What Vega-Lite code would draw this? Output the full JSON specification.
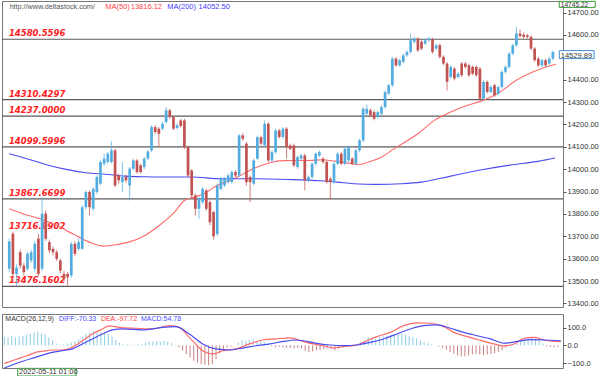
{
"$schema": "https://vega.github.io/schema/vega-lite/v6.json",
"padding": 0,
"background": "white",
"spacing": 5,
"config": {"view": {"stroke": "#777", "strokeWidth": 1}, "font": "Liberation Sans",
  "axis": {"labelFont": "Liberation Sans", "labelFontSize": 7.5, "labelColor": "#333", "tickColor": "#555", "tickSize": 3, "labelPadding": 1, "domain": false, "grid": false, "title": null}},
"datasets": {
"candles": [
{"i":0,"o":13555,"h":13690,"l":13540,"c":13677},{"i":1,"o":13711,"h":13720,"l":13500,"c":13532},{"i":2,"o":13532,"h":13575,"l":13478,"c":13560},{"i":3,"o":13629,"h":13640,"l":13555,"c":13569},{"i":4,"o":13569,"h":13580,"l":13525,"c":13540},
{"i":5,"o":13555,"h":13630,"l":13545,"c":13622},{"i":6,"o":13592,"h":13640,"l":13580,"c":13629},{"i":7,"o":13555,"h":13680,"l":13540,"c":13666},{"i":8,"o":13689,"h":13711,"l":13520,"c":13532},{"i":9,"o":13555,"h":13875,"l":13545,"c":13801},
{"i":10,"o":13801,"h":13815,"l":13680,"c":13689},{"i":11,"o":13674,"h":13685,"l":13625,"c":13637},{"i":12,"o":13644,"h":13655,"l":13615,"c":13629},{"i":13,"o":13629,"h":13640,"l":13590,"c":13599},{"i":14,"o":13592,"h":13600,"l":13535,"c":13547},
{"i":15,"o":13532,"h":13545,"l":13500,"c":13510},{"i":16,"o":13532,"h":13540,"l":13480,"c":13517},{"i":17,"o":13525,"h":13675,"l":13515,"c":13666},{"i":18,"o":13666,"h":13678,"l":13610,"c":13622},{"i":19,"o":13644,"h":13690,"l":13635,"c":13674},
{"i":20,"o":13644,"h":13840,"l":13640,"c":13830},{"i":21,"o":13830,"h":13905,"l":13820,"c":13898},{"i":22,"o":13898,"h":13905,"l":13793,"c":13830},{"i":23,"o":13823,"h":13920,"l":13815,"c":13912},{"i":24,"o":13898,"h":13972,"l":13890,"c":13965},
{"i":25,"o":13935,"h":14040,"l":13928,"c":14032},{"i":26,"o":14024,"h":14069,"l":14015,"c":14047},{"i":27,"o":14032,"h":14076,"l":14025,"c":14069},{"i":28,"o":14032,"h":14124,"l":14025,"c":14084},{"i":29,"o":14084,"h":14090,"l":13920,"c":13927},
{"i":30,"o":13972,"h":13980,"l":13935,"c":13950},{"i":31,"o":13942,"h":14032,"l":13898,"c":13965},{"i":32,"o":13965,"h":13975,"l":13940,"c":13950},{"i":33,"o":13927,"h":14010,"l":13860,"c":14002},{"i":34,"o":14002,"h":14047,"l":13995,"c":14039},
{"i":35,"o":14039,"h":14045,"l":13980,"c":13987},{"i":36,"o":14017,"h":14025,"l":13980,"c":13987},{"i":37,"o":14010,"h":14055,"l":14000,"c":14047},{"i":38,"o":14047,"h":14085,"l":14040,"c":14079},{"i":39,"o":14084,"h":14196,"l":14076,"c":14188},
{"i":40,"o":14188,"h":14196,"l":14158,"c":14166},{"i":41,"o":14181,"h":14188,"l":14099,"c":14158},{"i":42,"o":14181,"h":14211,"l":14173,"c":14203},{"i":43,"o":14211,"h":14278,"l":14203,"c":14263},{"i":44,"o":14263,"h":14270,"l":14225,"c":14233},
{"i":45,"o":14233,"h":14240,"l":14173,"c":14181},{"i":46,"o":14184,"h":14205,"l":14178,"c":14196},{"i":47,"o":14218,"h":14225,"l":14185,"c":14193},{"i":48,"o":14218,"h":14225,"l":14090,"c":14099},{"i":49,"o":14099,"h":14105,"l":13965,"c":13972},
{"i":50,"o":13994,"h":14000,"l":13870,"c":13883},{"i":51,"o":13883,"h":13890,"l":13793,"c":13823},{"i":52,"o":13823,"h":13878,"l":13778,"c":13868},{"i":53,"o":13853,"h":13920,"l":13845,"c":13912},{"i":54,"o":13905,"h":13912,"l":13815,"c":13823},
{"i":55,"o":13853,"h":13860,"l":13750,"c":13763},{"i":56,"o":13808,"h":13815,"l":13685,"c":13700},{"i":57,"o":13710,"h":13935,"l":13700,"c":13927},{"i":58,"o":13912,"h":13965,"l":13905,"c":13957},{"i":59,"o":13927,"h":13965,"l":13920,"c":13957},
{"i":60,"o":13942,"h":13980,"l":13935,"c":13972},{"i":61,"o":13942,"h":13995,"l":13935,"c":13987},{"i":62,"o":13987,"h":13995,"l":13965,"c":13972},{"i":63,"o":13972,"h":14158,"l":13965,"c":14151},{"i":64,"o":14151,"h":14160,"l":14128,"c":14136},
{"i":65,"o":14114,"h":14122,"l":13927,"c":13942},{"i":66,"o":13965,"h":13972,"l":13853,"c":13942},{"i":67,"o":13935,"h":14047,"l":13928,"c":14039},{"i":68,"o":14047,"h":14150,"l":14040,"c":14143},{"i":69,"o":14143,"h":14150,"l":14106,"c":14114},
{"i":70,"o":14106,"h":14218,"l":14099,"c":14203},{"i":71,"o":14203,"h":14210,"l":14032,"c":14039},{"i":72,"o":14039,"h":14084,"l":14032,"c":14076},{"i":73,"o":14076,"h":14180,"l":14069,"c":14173},{"i":74,"o":14173,"h":14180,"l":14136,"c":14144},
{"i":75,"o":14144,"h":14188,"l":14136,"c":14181},{"i":76,"o":14181,"h":14188,"l":14047,"c":14099},{"i":77,"o":14106,"h":14114,"l":14084,"c":14091},{"i":78,"o":14106,"h":14114,"l":14010,"c":14017},{"i":79,"o":14010,"h":14061,"l":14002,"c":14054},
{"i":80,"o":14047,"h":14069,"l":14040,"c":14061},{"i":81,"o":14061,"h":14069,"l":13905,"c":13950},{"i":82,"o":13950,"h":13972,"l":13942,"c":13965},{"i":83,"o":13965,"h":14032,"l":13957,"c":14024},{"i":84,"o":14024,"h":14076,"l":14017,"c":14069},
{"i":85,"o":14061,"h":14084,"l":14054,"c":14076},{"i":86,"o":14047,"h":14054,"l":14024,"c":14032},{"i":87,"o":14032,"h":14040,"l":13935,"c":13942},{"i":88,"o":13957,"h":13965,"l":13868,"c":13942},{"i":89,"o":13942,"h":14032,"l":13935,"c":14024},
{"i":90,"o":14024,"h":14076,"l":14017,"c":14069},{"i":91,"o":14069,"h":14076,"l":14017,"c":14024},{"i":92,"o":14024,"h":14099,"l":14017,"c":14091},{"i":93,"o":14039,"h":14106,"l":14032,"c":14099},{"i":94,"o":14047,"h":14054,"l":14017,"c":14024},
{"i":95,"o":14024,"h":14091,"l":14017,"c":14084},{"i":96,"o":14084,"h":14136,"l":14076,"c":14129},{"i":97,"o":14129,"h":14278,"l":14121,"c":14270},{"i":98,"o":14248,"h":14290,"l":14240,"c":14270},{"i":99,"o":14263,"h":14270,"l":14233,"c":14241},
{"i":100,"o":14255,"h":14262,"l":14218,"c":14226},{"i":101,"o":14233,"h":14262,"l":14226,"c":14255},{"i":102,"o":14248,"h":14285,"l":14240,"c":14278},{"i":103,"o":14278,"h":14352,"l":14270,"c":14345},{"i":104,"o":14338,"h":14382,"l":14330,"c":14375},
{"i":105,"o":14375,"h":14502,"l":14367,"c":14494},{"i":106,"o":14494,"h":14502,"l":14457,"c":14464},{"i":107,"o":14464,"h":14494,"l":14457,"c":14487},{"i":108,"o":14479,"h":14516,"l":14472,"c":14509},{"i":109,"o":14509,"h":14531,"l":14502,"c":14524},
{"i":110,"o":14524,"h":14606,"l":14516,"c":14576},{"i":111,"o":14569,"h":14591,"l":14561,"c":14584},{"i":112,"o":14584,"h":14591,"l":14524,"c":14531},{"i":113,"o":14569,"h":14576,"l":14531,"c":14539},{"i":114,"o":14561,"h":14584,"l":14554,"c":14576},
{"i":115,"o":14576,"h":14591,"l":14569,"c":14584},{"i":116,"o":14581,"h":14588,"l":14516,"c":14524},{"i":117,"o":14539,"h":14561,"l":14531,"c":14554},{"i":118,"o":14554,"h":14561,"l":14494,"c":14502},{"i":119,"o":14502,"h":14509,"l":14464,"c":14472},
{"i":120,"o":14472,"h":14479,"l":14352,"c":14390},{"i":121,"o":14412,"h":14464,"l":14405,"c":14457},{"i":122,"o":14449,"h":14457,"l":14397,"c":14405},{"i":123,"o":14412,"h":14435,"l":14405,"c":14427},{"i":124,"o":14472,"h":14479,"l":14412,"c":14420},
{"i":125,"o":14472,"h":14479,"l":14449,"c":14457},{"i":126,"o":14464,"h":14472,"l":14412,"c":14420},{"i":127,"o":14457,"h":14464,"l":14420,"c":14427},{"i":128,"o":14457,"h":14464,"l":14412,"c":14420},{"i":129,"o":14449,"h":14457,"l":14308,"c":14315},
{"i":130,"o":14315,"h":14397,"l":14308,"c":14390},{"i":131,"o":14390,"h":14397,"l":14338,"c":14345},{"i":132,"o":14345,"h":14375,"l":14338,"c":14367},{"i":133,"o":14375,"h":14382,"l":14323,"c":14330},{"i":134,"o":14337,"h":14375,"l":14330,"c":14367},
{"i":135,"o":14367,"h":14442,"l":14360,"c":14435},{"i":136,"o":14435,"h":14464,"l":14427,"c":14457},{"i":137,"o":14457,"h":14524,"l":14449,"c":14516},{"i":138,"o":14516,"h":14561,"l":14509,"c":14554},{"i":139,"o":14554,"h":14636,"l":14546,"c":14606},
{"i":140,"o":14606,"h":14625,"l":14588,"c":14595},{"i":141,"o":14601,"h":14610,"l":14584,"c":14591},{"i":142,"o":14598,"h":14605,"l":14584,"c":14591},{"i":143,"o":14591,"h":14598,"l":14531,"c":14539},{"i":144,"o":14539,"h":14546,"l":14479,"c":14487},
{"i":145,"o":14494,"h":14502,"l":14457,"c":14464},{"i":146,"o":14464,"h":14494,"l":14457,"c":14487},{"i":147,"o":14487,"h":14494,"l":14457,"c":14464},{"i":148,"o":14472,"h":14502,"l":14465,"c":14494},{"i":149,"o":14494,"h":14530,"l":14487,"c":14524}
],
"ma": [
{"s":"MA50","i":0,"p":13823},{"s":"MA50","i":3.9,"p":13800},{"s":"MA50","i":8.4,"p":13778},{"s":"MA50","i":12.9,"p":13749},{"s":"MA50","i":17.4,"p":13711},{"s":"MA50","i":21.9,"p":13674},{"s":"MA50","i":25.9,"p":13656},{"s":"MA50","i":29.1,"p":13662},{"s":"MA50","i":32.7,"p":13674},{"s":"MA50","i":37.2,"p":13704},{"s":"MA50","i":41.7,"p":13756},{"s":"MA50","i":45.3,"p":13808},{"s":"MA50","i":48,"p":13860},{"s":"MA50","i":50.7,"p":13875},{"s":"MA50","i":53.4,"p":13890},{"s":"MA50","i":57,"p":13928},{"s":"MA50","i":60.6,"p":13950},{"s":"MA50","i":64.2,"p":13979},{"s":"MA50","i":67.8,"p":14009},{"s":"MA50","i":71.5,"p":14029},{"s":"MA50","i":75.1,"p":14038},{"s":"MA50","i":78.6,"p":14039},{"s":"MA50","i":82.3,"p":14039},{"s":"MA50","i":85.9,"p":14042},{"s":"MA50","i":89.5,"p":14035},{"s":"MA50","i":93.1,"p":14027},{"s":"MA50","i":95.8,"p":14020},{"s":"MA50","i":98.5,"p":14032},{"s":"MA50","i":102.1,"p":14054},{"s":"MA50","i":105.7,"p":14094},{"s":"MA50","i":107.5,"p":14111},{"s":"MA50","i":112,"p":14158},{"s":"MA50","i":116.5,"p":14218},{"s":"MA50","i":121,"p":14256},{"s":"MA50","i":125.5,"p":14285},{"s":"MA50","i":130,"p":14308},{"s":"MA50","i":134.5,"p":14345},{"s":"MA50","i":139,"p":14397},{"s":"MA50","i":143.5,"p":14434},{"s":"MA50","i":147.1,"p":14457},{"s":"MA50","i":149.8,"p":14469},
{"s":"MA200","i":0,"p":14069},{"s":"MA200","i":4.8,"p":14047},{"s":"MA200","i":10.2,"p":14020},{"s":"MA200","i":15.6,"p":13999},{"s":"MA200","i":21,"p":13984},{"s":"MA200","i":26.4,"p":13977},{"s":"MA200","i":31.8,"p":13969},{"s":"MA200","i":37.2,"p":13966},{"s":"MA200","i":42.6,"p":13965},{"s":"MA200","i":49.8,"p":13965},{"s":"MA200","i":58.4,"p":13957},{"s":"MA200","i":67.4,"p":13957},{"s":"MA200","i":76.4,"p":13954},{"s":"MA200","i":85.4,"p":13948},{"s":"MA200","i":89.9,"p":13942},{"s":"MA200","i":94.4,"p":13935},{"s":"MA200","i":100.7,"p":13932},{"s":"MA200","i":107.5,"p":13935},{"s":"MA200","i":112.9,"p":13942},{"s":"MA200","i":121,"p":13969},{"s":"MA200","i":129.1,"p":13996},{"s":"MA200","i":137.2,"p":14018},{"s":"MA200","i":145.3,"p":14036},{"s":"MA200","i":149.6,"p":14050}
],
"levels": [{"level":14580.5596},{"level":14310.4297},{"level":14237.0},{"level":14099.5996},{"level":13867.6699},{"level":13476.1602}],
"labels": [{"level":14580.5596,"t":"14580.5596"},{"level":14310.4297,"t":"14310.4297"},{"level":14237.0,"t":"14237.0000"},{"level":14099.5996,"t":"14099.5996"},{"level":13867.6699,"t":"13867.6699"},{"level":13716.9902,"t":"13716.9902"},{"level":13476.1602,"t":"13476.1602"}],
"hist": [
{"i":0,"m":49},{"i":1,"m":45},{"i":2,"m":52},{"i":3,"m":45},{"i":4,"m":49},{"i":5,"m":54},{"i":6,"m":60},{"i":7,"m":67},{"i":8,"m":73},{"i":9,"m":79},
{"i":10,"m":67},{"i":11,"m":60},{"i":12,"m":45},{"i":13,"m":30},{"i":14,"m":11},{"i":15,"m":4},{"i":16,"m":6},{"i":17,"m":11},{"i":18,"m":17},{"i":19,"m":22},
{"i":20,"m":34},{"i":21,"m":49},{"i":22,"m":64},{"i":23,"m":71},{"i":24,"m":79},{"i":25,"m":75},{"i":26,"m":73},{"i":27,"m":71},{"i":28,"m":64},{"i":29,"m":49},
{"i":30,"m":30},{"i":31,"m":15},{"i":32,"m":7},{"i":33,"m":6},{"i":34,"m":4},{"i":35,"m":4},{"i":36,"m":6},{"i":37,"m":9},{"i":38,"m":15},{"i":39,"m":21},
{"i":40,"m":22},{"i":41,"m":24},{"i":42,"m":22},{"i":43,"m":26},{"i":44,"m":21},{"i":45,"m":13},{"i":46,"m":2},{"i":47,"m":-11},{"i":48,"m":-30},{"i":49,"m":-49},
{"i":50,"m":-67},{"i":51,"m":-86},{"i":52,"m":-96},{"i":53,"m":-105},{"i":54,"m":-109},{"i":55,"m":-112},{"i":56,"m":-105},{"i":57,"m":-77},{"i":58,"m":-45},{"i":59,"m":-22},
{"i":60,"m":-11},{"i":61,"m":-7},{"i":62,"m":-2},{"i":63,"m":17},{"i":64,"m":30},{"i":65,"m":26},{"i":66,"m":30},{"i":67,"m":36},{"i":68,"m":26},{"i":69,"m":22},
{"i":70,"m":17},{"i":71,"m":7},{"i":72,"m":-4},{"i":73,"m":-11},{"i":74,"m":-9},{"i":75,"m":-11},{"i":76,"m":-15},{"i":77,"m":-15},{"i":78,"m":-17},{"i":79,"m":-15},
{"i":80,"m":-17},{"i":81,"m":-32},{"i":82,"m":-37},{"i":83,"m":-34},{"i":84,"m":-28},{"i":85,"m":-24},{"i":86,"m":-21},{"i":87,"m":-13},{"i":88,"m":-19},{"i":89,"m":-28},
{"i":90,"m":-19},{"i":91,"m":-6},{"i":92,"m":-2},{"i":93,"m":2},{"i":94,"m":4},{"i":95,"m":9},{"i":96,"m":19},{"i":97,"m":28},{"i":98,"m":43},{"i":99,"m":47},
{"i":100,"m":51},{"i":101,"m":47},{"i":102,"m":51},{"i":103,"m":54},{"i":104,"m":58},{"i":105,"m":62},{"i":106,"m":66},{"i":107,"m":66},{"i":108,"m":62},{"i":109,"m":54},
{"i":110,"m":47},{"i":111,"m":39},{"i":112,"m":28},{"i":113,"m":19},{"i":114,"m":13},{"i":115,"m":6},{"i":116,"m":1},{"i":117,"m":-6},{"i":118,"m":-13},{"i":119,"m":-24},
{"i":120,"m":-37},{"i":121,"m":-47},{"i":122,"m":-56},{"i":123,"m":-62},{"i":124,"m":-62},{"i":125,"m":-56},{"i":126,"m":-51},{"i":127,"m":-47},{"i":128,"m":-51},{"i":129,"m":-54},
{"i":130,"m":-51},{"i":131,"m":-47},{"i":132,"m":-43},{"i":133,"m":-37},{"i":134,"m":-28},{"i":135,"m":-13},{"i":136,"m":1},{"i":137,"m":9},{"i":138,"m":19},{"i":139,"m":28},
{"i":140,"m":37},{"i":141,"m":41},{"i":142,"m":43},{"i":143,"m":37},{"i":144,"m":24},{"i":145,"m":9},{"i":146,"m":-6},{"i":147,"m":-9},{"i":148,"m":-13},{"i":149,"m":-9}
],
"macd": [
{"s":"DIFF","i":0,"v":-101},{"s":"DIFF","i":2.1,"v":-86},{"s":"DIFF","i":4.8,"v":-67},{"s":"DIFF","i":7.5,"v":-48},{"s":"DIFF","i":8.4,"v":-39},{"s":"DIFF","i":10.2,"v":-34},{"s":"DIFF","i":12.9,"v":-26},{"s":"DIFF","i":15.6,"v":-26},{"s":"DIFF","i":18.3,"v":-11},{"s":"DIFF","i":21,"v":26},{"s":"DIFF","i":23.7,"v":64},{"s":"DIFF","i":26.4,"v":92},{"s":"DIFF","i":28.2,"v":109},{"s":"DIFF","i":30.9,"v":101},{"s":"DIFF","i":35.4,"v":96},{"s":"DIFF","i":39.9,"v":92},{"s":"DIFF","i":44.4,"v":111},{"s":"DIFF","i":47.1,"v":101},{"s":"DIFF","i":49.8,"v":45},{"s":"DIFF","i":53.4,"v":-30},{"s":"DIFF","i":56.1,"v":-48},{"s":"DIFF","i":58.8,"v":-30},{"s":"DIFF","i":62.4,"v":-20},{"s":"DIFF","i":66,"v":8},{"s":"DIFF","i":69.6,"v":30},{"s":"DIFF","i":73.2,"v":36},{"s":"DIFF","i":76.9,"v":42},{"s":"DIFF","i":80.5,"v":22},{"s":"DIFF","i":83.2,"v":8},{"s":"DIFF","i":85.9,"v":-2},{"s":"DIFF","i":88.6,"v":-15},{"s":"DIFF","i":91.3,"v":-7},{"s":"DIFF","i":94.9,"v":2},{"s":"DIFF","i":97.6,"v":26},{"s":"DIFF","i":100.3,"v":49},{"s":"DIFF","i":103.9,"v":73},{"s":"DIFF","i":107.5,"v":111},{"s":"DIFF","i":111.1,"v":126},{"s":"DIFF","i":114.7,"v":124},{"s":"DIFF","i":118.3,"v":105},{"s":"DIFF","i":121,"v":73},{"s":"DIFF","i":124.6,"v":49},{"s":"DIFF","i":128.2,"v":28},{"s":"DIFF","i":131.8,"v":8},{"s":"DIFF","i":134.5,"v":-3},{"s":"DIFF","i":137.2,"v":8},{"s":"DIFF","i":139.9,"v":39},{"s":"DIFF","i":142.6,"v":45},{"s":"DIFF","i":145.3,"v":30},{"s":"DIFF","i":148,"v":22},{"s":"DIFF","i":149.8,"v":21},
{"s":"DEA","i":0,"v":-127},{"s":"DEA","i":3.9,"v":-96},{"s":"DEA","i":8.4,"v":-67},{"s":"DEA","i":12.9,"v":-39},{"s":"DEA","i":15.6,"v":-30},{"s":"DEA","i":18.3,"v":-20},{"s":"DEA","i":21,"v":8},{"s":"DEA","i":23.7,"v":36},{"s":"DEA","i":26.4,"v":64},{"s":"DEA","i":29.1,"v":87},{"s":"DEA","i":31.8,"v":92},{"s":"DEA","i":37.2,"v":87},{"s":"DEA","i":42.6,"v":101},{"s":"DEA","i":46.2,"v":105},{"s":"DEA","i":49.8,"v":64},{"s":"DEA","i":53.4,"v":8},{"s":"DEA","i":57,"v":-20},{"s":"DEA","i":60.6,"v":-26},{"s":"DEA","i":64.2,"v":-15},{"s":"DEA","i":67.8,"v":-2},{"s":"DEA","i":71.5,"v":8},{"s":"DEA","i":75.1,"v":22},{"s":"DEA","i":78.6,"v":30},{"s":"DEA","i":80.5,"v":26},{"s":"DEA","i":84.1,"v":11},{"s":"DEA","i":87.7,"v":2},{"s":"DEA","i":91.3,"v":-2},{"s":"DEA","i":94.9,"v":2},{"s":"DEA","i":98.5,"v":17},{"s":"DEA","i":102.1,"v":36},{"s":"DEA","i":105.7,"v":64},{"s":"DEA","i":109.3,"v":92},{"s":"DEA","i":112.9,"v":111},{"s":"DEA","i":116.5,"v":115},{"s":"DEA","i":120.1,"v":96},{"s":"DEA","i":123.7,"v":73},{"s":"DEA","i":127.3,"v":54},{"s":"DEA","i":130.9,"v":36},{"s":"DEA","i":134.5,"v":13},{"s":"DEA","i":138.1,"v":22},{"s":"DEA","i":141.7,"v":32},{"s":"DEA","i":145.3,"v":30},{"s":"DEA","i":149.8,"v":26}
]
},
"vconcat": [
{
"width": 561, "height": 306,
"encoding": {
  "x": {"type": "quantitative", "scale": {"domain": [-0.62, 150.4], "nice": false, "zero": false}, "axis": null},
  "y": {"type": "quantitative", "scale": {"domain": [13384, 14751.6], "nice": false, "zero": false},
        "axis": {"orient": "right", "values": [13400,13500,13600,13700,13800,13900,14000,14100,14200,14300,14400,14600,14700], "format": ".2f"}}
},
"layer": [
  {"data": {"name": "levels"}, "mark": {"type": "rule", "color": "#5a5a5a", "strokeWidth": 1.2}, "encoding": {"y": {"field": "level"}}},
  {"data": {"name": "labels"}, "mark": {"type": "text", "align": "left", "baseline": "bottom", "dy": -1, "font": "DejaVu Sans", "fontSize": 8.5, "fontWeight": "bold", "fontStyle": "italic", "color": "#ff2020"},
   "encoding": {"x": {"datum": -0.1}, "y": {"field": "level"}, "text": {"field": "t"}}},
  {"data": {"name": "ma"}, "mark": {"type": "line", "strokeWidth": 1.1, "interpolate": "monotone"},
   "encoding": {"x": {"field": "i"}, "y": {"field": "p"}, "detail": {"field": "s"},
     "color": {"field": "s", "type": "nominal", "scale": {"domain": ["MA50","MA200"], "range": ["#ff6a6a","#4b4bf0"]}, "legend": null}}},
  {"data": {"name": "candles"}, "mark": {"type": "rule", "strokeWidth": 1, "opacity": 0.8},
   "encoding": {"x": {"field": "i"}, "y": {"field": "l"}, "y2": {"field": "h"},
     "color": {"condition": {"test": "datum.c >= datum.o", "value": "#5fb4e2"}, "value": "#c65d5d"}}},
  {"data": {"name": "candles"}, "mark": {"type": "bar", "width": 2.7},
   "encoding": {"x": {"field": "i"}, "y": {"field": "o"}, "y2": {"field": "c"},
     "color": {"condition": {"test": "datum.c >= datum.o", "value": "#52ace0"}, "value": "#c25252"}}},
  {"data": {"values": [{}]}, "mark": {"type": "text", "align": "left", "baseline": "middle", "fontSize": 7.2, "color": "#555"},
   "encoding": {"x": {"datum": 0.1}, "y": {"datum": 14725}, "text": {"value": "http://www.deltastock.com/"}}},
  {"data": {"values": [{}]}, "mark": {"type": "text", "align": "left", "baseline": "middle", "fontSize": 7.5, "color": "#ff4040"},
   "encoding": {"x": {"datum": 26.3}, "y": {"datum": 14725}, "text": {"value": "MA(50)"}}},
  {"data": {"values": [{}]}, "mark": {"type": "text", "align": "left", "baseline": "middle", "fontSize": 7.5, "color": "#ff4040"},
   "encoding": {"x": {"datum": 33.3}, "y": {"datum": 14725}, "text": {"value": "13816.12"}}},
  {"data": {"values": [{}]}, "mark": {"type": "text", "align": "left", "baseline": "middle", "fontSize": 7.5, "color": "#4040ff"},
   "encoding": {"x": {"datum": 43.3}, "y": {"datum": 14725}, "text": {"value": "MA(200)"}}},
  {"data": {"values": [{}]}, "mark": {"type": "text", "align": "left", "baseline": "middle", "fontSize": 7.5, "color": "#4040ff"},
   "encoding": {"x": {"datum": 51.9}, "y": {"datum": 14725}, "text": {"value": "14052.50"}}},
  {"data": {"values": [{}]}, "mark": {"type": "rect", "fill": "white", "stroke": "#3c9a3c", "strokeWidth": 1, "clip": false},
   "encoding": {"x": {"datum": 150.75}, "x2": {"datum": 160.6}, "y": {"datum": 14750}, "y2": {"datum": 14723}}},
  {"data": {"values": [{}]}, "mark": {"type": "text", "align": "left", "baseline": "top", "dx": 1.5, "dy": 0.2, "fontSize": 6.6, "color": "#333", "clip": false},
   "encoding": {"x": {"datum": 150.75}, "y": {"datum": 14750}, "text": {"value": "14745.22"}}},
  {"data": {"values": [{}]}, "mark": {"type": "rect", "fill": "white", "stroke": "#3f8fd8", "strokeWidth": 1, "clip": false},
   "encoding": {"x": {"datum": 150.75}, "x2": {"datum": 160.3}, "y": {"datum": 14529.89}, "y2": {"datum": 14494}}},
  {"data": {"values": [{}]}, "mark": {"type": "text", "align": "left", "baseline": "top", "dx": 1.5, "dy": 1, "fontSize": 7.5, "color": "#333", "clip": false},
   "encoding": {"x": {"datum": 150.75}, "y": {"datum": 14529.89}, "text": {"value": "14529.89"}}}
]
},
{
"width": 561, "height": 54,
"encoding": {
  "x": {"type": "quantitative", "scale": {"domain": [-0.62, 150.4], "nice": false, "zero": false}, "axis": null},
  "y": {"type": "quantitative", "scale": {"domain": [-127, 176], "nice": false, "zero": false},
        "axis": {"orient": "right", "values": [-100, 0, 100], "format": ".1f"}}
},
"layer": [
  {"data": {"name": "hist"}, "mark": {"type": "rule", "strokeWidth": 1},
   "encoding": {"x": {"field": "i"}, "y": {"field": "m"}, "y2": {"datum": 0},
     "color": {"condition": {"test": "datum.m >= 0", "value": "#8ccbe6"}, "value": "#c98080"}}},
  {"data": {"name": "macd"}, "mark": {"type": "line", "strokeWidth": 1.2, "interpolate": "monotone"},
   "encoding": {"x": {"field": "i"}, "y": {"field": "v"}, "detail": {"field": "s"},
     "color": {"field": "s", "type": "nominal", "scale": {"domain": ["DIFF","DEA"], "range": ["#6262ff","#ff5050"]}, "legend": null}}},
  {"data": {"values": [{}]}, "mark": {"type": "text", "align": "left", "baseline": "middle", "fontSize": 7, "color": "#333"},
   "encoding": {"x": {"datum": 0.27}, "y": {"datum": 148}, "text": {"value": "MACD(26,12,9)"}}},
  {"data": {"values": [{}]}, "mark": {"type": "text", "align": "left", "baseline": "middle", "fontSize": 7, "color": "#4a4aff"},
   "encoding": {"x": {"datum": 14.7}, "y": {"datum": 148}, "text": {"value": "DIFF:-70.33"}}},
  {"data": {"values": [{}]}, "mark": {"type": "text", "align": "left", "baseline": "middle", "fontSize": 7, "color": "#ff4040"},
   "encoding": {"x": {"datum": 26.0}, "y": {"datum": 148}, "text": {"value": "DEA:-97.72"}}},
  {"data": {"values": [{}]}, "mark": {"type": "text", "align": "left", "baseline": "middle", "fontSize": 7, "color": "#4a4aff"},
   "encoding": {"x": {"datum": 36.8}, "y": {"datum": 148}, "text": {"value": "MACD:54.78"}}},
  {"data": {"values": [{}]}, "mark": {"type": "rect", "fill": "white", "stroke": "#3c9a3c", "strokeWidth": 1, "clip": false},
   "encoding": {"x": {"datum": 3.6}, "x2": {"datum": 19.3}, "y": {"datum": -129}, "y2": {"datum": -172}}},
  {"data": {"values": [{}]}, "mark": {"type": "text", "align": "left", "baseline": "middle", "fontSize": 7.5, "color": "#333", "clip": false},
   "encoding": {"x": {"datum": 3.95}, "y": {"datum": -150}, "text": {"value": "2022-05-11 01:00"}}}
]
}
]
}
